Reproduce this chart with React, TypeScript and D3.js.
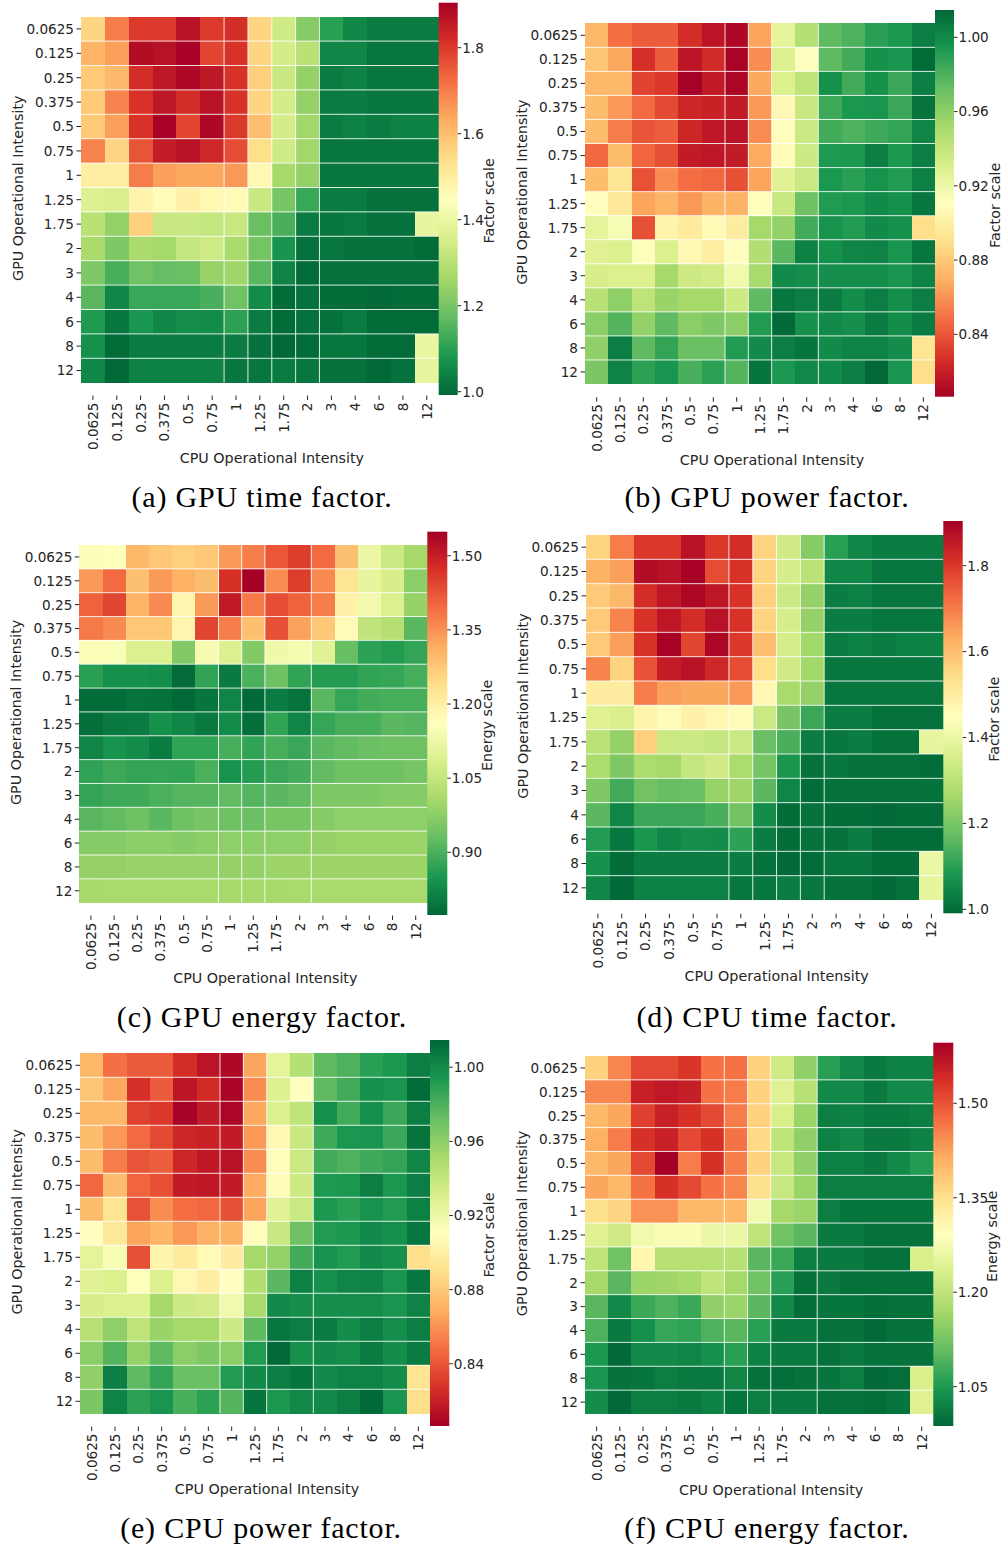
import React from 'react';
import * as d3 from 'd3';

const cpuIntensity = ['0.0625', '0.125', '0.25', '0.375', '0.5', '0.75', '1', '1.25', '1.75', '2', '3', '4', '6', '8', '12'];
const gpuIntensity = ['0.0625', '0.125', '0.25', '0.375', '0.5', '0.75', '1', '1.25', '1.75', '2', '3', '4', '6', '8', '12'];

// rows = GPU operational intensity, columns = CPU operational intensity
const gpuTime = [
  [1.56, 1.70, 1.80, 1.80, 1.87, 1.80, 1.82, 1.56, 1.34, 1.22, 1.10, 1.05, 1.03, 1.03, 1.03],
  [1.62, 1.65, 1.88, 1.87, 1.90, 1.78, 1.81, 1.56, 1.35, 1.30, 1.05, 1.05, 1.02, 1.02, 1.02],
  [1.58, 1.61, 1.82, 1.86, 1.89, 1.86, 1.81, 1.57, 1.33, 1.24, 1.03, 1.04, 1.02, 1.02, 1.02],
  [1.58, 1.69, 1.81, 1.86, 1.82, 1.87, 1.81, 1.56, 1.35, 1.24, 1.03, 1.03, 1.02, 1.02, 1.02],
  [1.58, 1.65, 1.81, 1.90, 1.78, 1.89, 1.80, 1.60, 1.35, 1.26, 1.03, 1.04, 1.03, 1.04, 1.04],
  [1.69, 1.56, 1.76, 1.85, 1.87, 1.83, 1.77, 1.54, 1.34, 1.26, 1.02, 1.02, 1.02, 1.02, 1.02],
  [1.50, 1.50, 1.70, 1.65, 1.64, 1.64, 1.66, 1.47, 1.27, 1.24, 1.02, 1.02, 1.02, 1.02, 1.02],
  [1.37, 1.36, 1.48, 1.46, 1.49, 1.47, 1.46, 1.33, 1.20, 1.12, 1.03, 1.03, 1.01, 1.01, 1.01],
  [1.30, 1.24, 1.57, 1.33, 1.33, 1.32, 1.33, 1.18, 1.14, 1.03, 1.02, 1.03, 1.01, 1.01, 1.39],
  [1.275, 1.21, 1.275, 1.265, 1.32, 1.34, 1.275, 1.195, 1.075, 1.01, 1.02, 1.01, 1.01, 1.01, 1.00],
  [1.21, 1.14, 1.19, 1.175, 1.18, 1.245, 1.255, 1.16, 1.045, 1.00, 1.01, 1.01, 1.01, 1.01, 1.01],
  [1.16, 1.05, 1.12, 1.12, 1.12, 1.14, 1.19, 1.06, 1.00, 1.01, 1.00, 1.00, 0.995, 1.00, 1.00],
  [1.09, 1.02, 1.08, 1.05, 1.065, 1.06, 1.105, 1.03, 1.00, 1.01, 1.01, 1.03, 1.00, 1.00, 1.00],
  [1.07, 1.00, 1.03, 1.03, 1.03, 1.03, 1.03, 1.01, 0.995, 1.00, 1.02, 1.02, 1.00, 1.00, 1.40],
  [1.05, 0.995, 1.04, 1.04, 1.04, 1.04, 1.02, 1.02, 1.03, 1.02, 1.01, 1.01, 0.995, 1.01, 1.39],
];

const gpuPower = [
  [0.873, 0.849, 0.842, 0.842, 0.826, 0.815, 0.810, 0.866, 0.925, 0.946, 0.975, 0.980, 0.990, 0.994, 1.005],
  [0.879, 0.867, 0.827, 0.842, 0.816, 0.825, 0.808, 0.858, 0.929, 0.911, 0.975, 0.983, 0.997, 0.995, 1.013],
  [0.873, 0.873, 0.834, 0.830, 0.807, 0.818, 0.809, 0.867, 0.930, 0.942, 0.997, 0.983, 0.997, 0.985, 1.005],
  [0.875, 0.862, 0.847, 0.836, 0.823, 0.821, 0.818, 0.862, 0.906, 0.938, 0.984, 0.994, 0.995, 0.985, 1.010],
  [0.875, 0.853, 0.840, 0.843, 0.823, 0.817, 0.814, 0.858, 0.909, 0.937, 0.983, 0.980, 0.984, 0.987, 1.002],
  [0.846, 0.875, 0.845, 0.838, 0.818, 0.817, 0.818, 0.868, 0.908, 0.936, 0.993, 0.994, 1.005, 0.994, 1.005],
  [0.875, 0.893, 0.839, 0.858, 0.848, 0.846, 0.838, 0.866, 0.927, 0.937, 0.994, 0.990, 0.996, 0.992, 1.004],
  [0.910, 0.896, 0.866, 0.872, 0.862, 0.871, 0.871, 0.909, 0.938, 0.970, 0.992, 0.994, 1.000, 0.997, 1.008],
  [0.925, 0.915, 0.838, 0.903, 0.897, 0.907, 0.898, 0.952, 0.958, 0.983, 0.996, 0.992, 1.000, 0.997, 0.890],
  [0.927, 0.930, 0.912, 0.930, 0.906, 0.899, 0.910, 0.947, 0.976, 1.004, 0.997, 1.002, 1.003, 0.995, 1.008],
  [0.932, 0.930, 0.930, 0.952, 0.936, 0.934, 0.918, 0.951, 1.000, 0.998, 0.998, 0.998, 0.998, 0.995, 1.003],
  [0.945, 0.960, 0.943, 0.956, 0.952, 0.952, 0.936, 0.975, 1.008, 1.005, 1.006, 0.999, 1.005, 0.998, 1.005],
  [0.961, 0.978, 0.958, 0.975, 0.961, 0.965, 0.961, 0.992, 1.014, 0.997, 1.000, 0.998, 1.006, 0.999, 1.006],
  [0.959, 1.005, 0.975, 0.987, 0.971, 0.971, 0.992, 1.000, 1.005, 1.009, 1.000, 1.003, 1.003, 0.999, 0.893],
  [0.966, 1.003, 0.989, 0.995, 0.981, 0.989, 0.978, 1.009, 0.994, 1.001, 1.000, 1.005, 1.014, 0.995, 0.890],
];

const gpuEnergy = [
  [1.153, 1.16, 1.30, 1.277, 1.263, 1.277, 1.34, 1.373, 1.423, 1.455, 1.397, 1.288, 1.122, 1.064, 1.006],
  [1.34, 1.397, 1.288, 1.34, 1.31, 1.292, 1.47, 1.548, 1.355, 1.455, 1.36, 1.226, 1.112, 1.08, 0.974],
  [1.407, 1.443, 1.305, 1.36, 1.185, 1.34, 1.506, 1.378, 1.433, 1.408, 1.373, 1.195, 1.137, 1.09, 0.987],
  [1.378, 1.358, 1.277, 1.277, 1.185, 1.443, 1.373, 1.288, 1.43, 1.33, 1.275, 1.17, 1.045, 1.03, 0.918],
  [1.15, 1.15, 1.09, 1.09, 0.963, 1.14, 1.09, 0.963, 1.13, 1.14, 1.10, 0.93, 0.87, 0.86, 0.876],
  [0.865, 0.839, 0.839, 0.835, 0.778, 0.873, 0.802, 0.90, 0.94, 0.873, 0.86, 0.86, 0.873, 0.878, 0.897],
  [0.782, 0.782, 0.79, 0.787, 0.775, 0.795, 0.82, 0.776, 0.805, 0.79, 0.916, 0.878, 0.893, 0.897, 0.897],
  [0.785, 0.80, 0.805, 0.839, 0.82, 0.80, 0.83, 0.785, 0.873, 0.82, 0.878, 0.897, 0.897, 0.918, 0.91],
  [0.82, 0.842, 0.83, 0.805, 0.873, 0.873, 0.897, 0.873, 0.897, 0.883, 0.918, 0.925, 0.935, 0.94, 0.94],
  [0.872, 0.885, 0.876, 0.876, 0.873, 0.90, 0.842, 0.86, 0.883, 0.893, 0.925, 0.94, 0.94, 0.94, 0.95],
  [0.876, 0.885, 0.888, 0.90, 0.91, 0.91, 0.925, 0.91, 0.918, 0.925, 0.958, 0.958, 0.958, 0.967, 0.967],
  [0.916, 0.925, 0.94, 0.918, 0.94, 0.95, 0.94, 0.935, 0.95, 0.95, 0.967, 0.978, 0.978, 0.978, 0.978],
  [0.967, 0.967, 0.974, 0.974, 0.967, 0.974, 0.978, 0.974, 0.978, 0.978, 0.985, 0.993, 0.993, 0.993, 0.993],
  [0.985, 0.985, 0.99, 0.99, 0.99, 0.99, 0.985, 0.985, 0.995, 0.995, 0.995, 0.995, 0.995, 0.995, 0.995],
  [1.006, 1.01, 1.01, 1.01, 1.01, 1.01, 1.006, 1.006, 1.006, 1.01, 1.01, 1.01, 1.01, 1.01, 1.01],
];

const cpuTime = [
  [1.56, 1.70, 1.80, 1.80, 1.87, 1.80, 1.82, 1.56, 1.34, 1.22, 1.10, 1.05, 1.03, 1.03, 1.03],
  [1.62, 1.65, 1.88, 1.87, 1.90, 1.77, 1.81, 1.56, 1.35, 1.30, 1.05, 1.05, 1.02, 1.02, 1.02],
  [1.58, 1.61, 1.82, 1.86, 1.89, 1.86, 1.81, 1.57, 1.33, 1.24, 1.03, 1.04, 1.02, 1.02, 1.02],
  [1.58, 1.69, 1.81, 1.86, 1.82, 1.87, 1.81, 1.56, 1.35, 1.24, 1.03, 1.03, 1.02, 1.02, 1.02],
  [1.58, 1.65, 1.81, 1.90, 1.78, 1.89, 1.80, 1.60, 1.35, 1.26, 1.03, 1.04, 1.03, 1.04, 1.04],
  [1.69, 1.56, 1.76, 1.85, 1.87, 1.83, 1.77, 1.54, 1.34, 1.26, 1.02, 1.02, 1.02, 1.02, 1.02],
  [1.50, 1.50, 1.70, 1.65, 1.64, 1.64, 1.66, 1.47, 1.27, 1.24, 1.02, 1.02, 1.02, 1.02, 1.02],
  [1.37, 1.36, 1.48, 1.46, 1.49, 1.47, 1.46, 1.33, 1.20, 1.12, 1.03, 1.03, 1.01, 1.01, 1.01],
  [1.30, 1.24, 1.57, 1.33, 1.33, 1.32, 1.33, 1.18, 1.14, 1.03, 1.02, 1.03, 1.01, 1.01, 1.39],
  [1.275, 1.21, 1.275, 1.265, 1.32, 1.34, 1.275, 1.195, 1.08, 1.01, 1.02, 1.01, 1.01, 1.01, 1.00],
  [1.21, 1.13, 1.19, 1.175, 1.18, 1.245, 1.255, 1.16, 1.045, 1.00, 1.01, 1.01, 1.01, 1.01, 1.01],
  [1.16, 1.05, 1.12, 1.12, 1.12, 1.14, 1.19, 1.06, 1.00, 1.01, 1.00, 1.00, 0.995, 1.00, 1.00],
  [1.09, 1.02, 1.08, 1.05, 1.065, 1.06, 1.105, 1.03, 1.00, 1.01, 1.01, 1.03, 1.00, 1.00, 1.00],
  [1.07, 1.00, 1.03, 1.03, 1.03, 1.03, 1.03, 1.01, 0.995, 1.00, 1.02, 1.02, 1.00, 1.00, 1.40],
  [1.05, 0.995, 1.04, 1.04, 1.04, 1.04, 1.02, 1.02, 1.03, 1.02, 1.01, 1.01, 0.995, 1.01, 1.39],
];

const cpuPower = [
  [0.873, 0.849, 0.842, 0.842, 0.826, 0.815, 0.810, 0.866, 0.925, 0.946, 0.975, 0.980, 0.990, 0.994, 1.005],
  [0.879, 0.867, 0.827, 0.842, 0.816, 0.825, 0.808, 0.858, 0.929, 0.911, 0.975, 0.983, 0.997, 0.995, 1.013],
  [0.873, 0.873, 0.833, 0.830, 0.807, 0.818, 0.809, 0.867, 0.930, 0.942, 0.997, 0.983, 0.997, 0.985, 1.005],
  [0.875, 0.862, 0.847, 0.836, 0.823, 0.821, 0.818, 0.862, 0.906, 0.938, 0.984, 0.994, 0.995, 0.985, 1.010],
  [0.875, 0.853, 0.840, 0.843, 0.823, 0.817, 0.814, 0.858, 0.909, 0.937, 0.983, 0.980, 0.984, 0.987, 1.002],
  [0.846, 0.875, 0.845, 0.838, 0.818, 0.817, 0.818, 0.868, 0.908, 0.936, 0.993, 0.994, 1.005, 0.994, 1.005],
  [0.875, 0.893, 0.839, 0.858, 0.848, 0.846, 0.838, 0.866, 0.927, 0.937, 0.994, 0.990, 0.996, 0.992, 1.004],
  [0.910, 0.896, 0.866, 0.872, 0.862, 0.871, 0.871, 0.909, 0.938, 0.970, 0.992, 0.994, 1.000, 0.997, 1.008],
  [0.925, 0.915, 0.838, 0.903, 0.897, 0.907, 0.898, 0.952, 0.958, 0.983, 0.996, 0.992, 1.000, 0.997, 0.890],
  [0.927, 0.930, 0.912, 0.930, 0.906, 0.899, 0.910, 0.947, 0.976, 1.004, 0.997, 1.002, 1.003, 0.995, 1.008],
  [0.932, 0.930, 0.930, 0.952, 0.936, 0.934, 0.918, 0.951, 1.000, 0.998, 0.998, 0.998, 0.998, 0.995, 1.003],
  [0.945, 0.960, 0.943, 0.956, 0.952, 0.952, 0.936, 0.975, 1.008, 1.005, 1.006, 0.999, 1.005, 0.998, 1.005],
  [0.961, 0.978, 0.958, 0.975, 0.961, 0.965, 0.961, 0.992, 1.014, 0.997, 1.000, 0.998, 1.006, 0.999, 1.006],
  [0.959, 1.005, 0.975, 0.987, 0.971, 0.971, 0.992, 1.000, 1.005, 1.009, 1.000, 1.003, 1.003, 0.999, 0.893],
  [0.966, 1.003, 0.989, 0.995, 0.981, 0.989, 0.978, 1.009, 0.994, 1.001, 1.000, 1.005, 1.014, 0.995, 0.890],
];

const cpuEnergy = [
  [1.37, 1.45, 1.51, 1.51, 1.53, 1.47, 1.47, 1.37, 1.22, 1.15, 1.06, 1.03, 1.01, 1.02, 1.02],
  [1.45, 1.45, 1.555, 1.565, 1.557, 1.47, 1.46, 1.37, 1.24, 1.19, 1.03, 1.03, 1.01, 1.03, 1.03],
  [1.40, 1.42, 1.52, 1.555, 1.535, 1.51, 1.46, 1.37, 1.23, 1.16, 1.015, 1.02, 1.01, 1.01, 1.015],
  [1.41, 1.46, 1.535, 1.555, 1.51, 1.535, 1.47, 1.36, 1.20, 1.15, 1.02, 1.03, 1.01, 1.01, 1.02],
  [1.40, 1.42, 1.51, 1.596, 1.46, 1.535, 1.46, 1.37, 1.21, 1.15, 1.02, 1.02, 1.01, 1.03, 1.055],
  [1.42, 1.40, 1.47, 1.535, 1.51, 1.47, 1.45, 1.35, 1.21, 1.16, 1.015, 1.015, 1.015, 1.015, 1.015],
  [1.35, 1.365, 1.44, 1.44, 1.40, 1.40, 1.40, 1.27, 1.17, 1.16, 1.015, 1.005, 1.005, 1.005, 1.005],
  [1.24, 1.22, 1.27, 1.28, 1.28, 1.26, 1.26, 1.20, 1.12, 1.10, 1.01, 1.01, 1.00, 1.00, 1.00],
  [1.20, 1.12, 1.31, 1.19, 1.19, 1.19, 1.19, 1.10, 1.075, 1.015, 1.01, 1.01, 1.00, 1.00, 1.23],
  [1.17, 1.10, 1.16, 1.165, 1.17, 1.20, 1.17, 1.12, 1.06, 1.00, 1.01, 1.00, 1.00, 1.00, 1.00],
  [1.10, 1.03, 1.075, 1.09, 1.075, 1.15, 1.16, 1.10, 1.03, 0.995, 1.005, 1.005, 0.995, 1.00, 1.00],
  [1.09, 1.01, 1.04, 1.07, 1.065, 1.09, 1.10, 1.06, 1.01, 1.01, 1.00, 1.00, 0.99, 1.00, 1.00],
  [1.05, 0.99, 1.03, 1.03, 1.025, 1.04, 1.06, 1.02, 1.01, 1.01, 1.00, 1.01, 1.00, 1.00, 1.00],
  [1.045, 1.00, 1.005, 1.015, 1.01, 1.01, 1.025, 1.00, 0.995, 1.00, 1.005, 1.015, 0.99, 0.995, 1.23],
  [1.035, 0.99, 1.015, 1.015, 1.01, 1.02, 1.005, 1.015, 1.01, 1.01, 1.00, 1.00, 0.995, 1.005, 1.24],
];

// colour-scale limits and colorbar ticks
const timeRange = [0.9923, 1.9047];
const cpuTimeRange = [0.9907, 1.904];
const powerRange = [0.8064, 1.0147];
const gpuEnergyRange = [0.7732, 1.5486];
const cpuEnergyRange = [0.9876, 1.5962];
const timeTicks = [1.0, 1.2, 1.4, 1.6, 1.8];
const powerTicks = [0.84, 0.88, 0.92, 0.96, 1.0];
const gpuEnergyTicks = [0.9, 1.05, 1.2, 1.35, 1.5];
const cpuEnergyTicks = [1.05, 1.2, 1.35, 1.5];

const rdylgn = d3
  .scaleLinear<string>()
  .domain(d3.range(11).map((i) => i / 10))
  .range(d3.schemeRdYlGn[11] as string[])
  .interpolate(d3.interpolateRgb)
  .clamp(true);

type Panel = {
  key: string;
  data: number[][];
  range: number[];
  reversed: boolean;
  ticks: number[];
  fmt: string;
  cbLabel: string;
  caption: string;
  hm: number[];
  cb: number[];
  cbLabelOff: number;
  capX: number;
  capY: number;
  vLines: number[];
};

const panels: Panel[] = [
  { key: 'a', data: gpuTime, range: timeRange, reversed: true, ticks: timeTicks, fmt: '.1f', cbLabel: 'Factor scale', caption: '(a) GPU time factor.',
    hm: [81, 16.7, 438.7, 382.7], cb: [438.7, 2.7, 457.7, 395], cbLabelOff: 25.6, capX: 262, capY: 507, vLines: [6, 7, 8, 9, 10] },
  { key: 'b', data: gpuPower, range: powerRange, reversed: false, ticks: powerTicks, fmt: '.2f', cbLabel: 'Factor scale', caption: '(b) GPU power factor.',
    hm: [585, 23.3, 935, 384], cb: [935, 10, 954, 396.7], cbLabelOff: 35.3, capX: 767, capY: 507, vLines: [6, 7, 8, 10] },
  { key: 'c', data: gpuEnergy, range: gpuEnergyRange, reversed: true, ticks: gpuEnergyTicks, fmt: '.2f', cbLabel: 'Energy scale', caption: '(c) GPU energy factor.',
    hm: [79.3, 545, 427.3, 902.7], cb: [427.3, 531.7, 447.3, 915], cbLabelOff: 34.4, capX: 262, capY: 1027, vLines: [6, 7, 8, 10] },
  { key: 'd', data: cpuTime, range: cpuTimeRange, reversed: true, ticks: timeTicks, fmt: '.1f', cbLabel: 'Factor scale', caption: '(d) CPU time factor.',
    hm: [586, 535, 943.3, 900], cb: [943.3, 521, 962.7, 913.3], cbLabelOff: 25.6, capX: 767, capY: 1027, vLines: [6, 7, 8, 9, 10] },
  { key: 'e', data: cpuPower, range: powerRange, reversed: false, ticks: powerTicks, fmt: '.2f', cbLabel: 'Factor scale', caption: '(e) CPU power factor.',
    hm: [80, 1053.3, 430, 1413.3], cb: [430, 1040, 449.3, 1426], cbLabelOff: 34, capX: 261, capY: 1538, vLines: [6, 7, 8, 10] },
  { key: 'f', data: cpuEnergy, range: cpuEnergyRange, reversed: true, ticks: cpuEnergyTicks, fmt: '.2f', cbLabel: 'Energy scale', caption: '(f) CPU energy factor.',
    hm: [585, 1056, 933.3, 1414], cb: [933.3, 1042.7, 953.3, 1426], cbLabelOff: 33.4, capX: 767, capY: 1538, vLines: [6, 7, 8, 10] },
];

const TXT = '#262626';
const SANS = 'DejaVu Sans, sans-serif';
const TICK_FS = 13.6;
const LABEL_FS = 14.3;

function Heatmap({ p }: { p: Panel }) {
  const [x0, y0, x1, y1] = p.hm;
  const [cx0, cy0, cx1, cy1] = p.cb;
  const x = d3.scaleBand<string>().domain(cpuIntensity).range([x0, x1]);
  const y = d3.scaleBand<string>().domain(gpuIntensity).range([y0, y1]);
  const norm = d3.scaleLinear().domain(p.range).range([0, 1]);
  const color = (v: number) => rdylgn(p.reversed ? 1 - norm(v) : norm(v));
  const cy = d3.scaleLinear().domain(p.range).range([cy1, cy0]);
  const fmt = d3.format(p.fmt);
  const gradId = `grad-${p.key}`;
  const stops = d3.range(11).map((i) => i / 10);
  const bw = x.bandwidth();
  const bh = y.bandwidth();
  const hmCx = (x0 + x1) / 2;
  const hmCy = (y0 + y1) / 2;
  const cbCy = (cy0 + cy1) / 2;
  const cbLabelX = cx1 + p.cbLabelOff + 10.4;

  return (
    <g>
      <defs>
        <linearGradient id={gradId} x1="0" y1="1" x2="0" y2="0">
          {stops.map((t) => (
            <stop key={t} offset={t} stopColor={rdylgn(p.reversed ? 1 - t : t)} />
          ))}
        </linearGradient>
      </defs>
      {p.data.map((row, ri) =>
        row.map((v, ci) => (
          <rect
            key={`${ri}-${ci}`}
            x={x(cpuIntensity[ci])}
            y={y(gpuIntensity[ri])}
            width={bw + 0.4}
            height={bh + 0.4}
            fill={color(v)}
            shapeRendering="crispEdges"
          />
        ))
      )}
      {gpuIntensity.slice(1).map((g) => (
        <line key={`h${g}`} x1={x0} x2={x1} y1={y(g)} y2={y(g)} stroke="#fff" strokeOpacity={0.85} strokeWidth={1} />
      ))}
      {p.vLines.map((i) => (
        <line key={`v${i}`} x1={x(cpuIntensity[i])} x2={x(cpuIntensity[i])} y1={y0} y2={y1} stroke="#fff" strokeOpacity={0.85} strokeWidth={1} />
      ))}
      {/* y axis */}
      {gpuIntensity.map((g) => {
        const yy = (y(g) as number) + bh / 2;
        return (
          <g key={`yt${g}`}>
            <line x1={x0 - 4.5} x2={x0} y1={yy} y2={yy} stroke={TXT} strokeWidth={1} />
            <text x={x0 - 7} y={yy} dy="0.36em" textAnchor="end" fontFamily={SANS} fontSize={TICK_FS} fill={TXT}>
              {g}
            </text>
          </g>
        );
      })}
      {/* x axis */}
      {cpuIntensity.map((c) => {
        const xx = (x(c) as number) + bw / 2;
        return (
          <g key={`xt${c}`}>
            <line x1={xx} x2={xx} y1={cy1 + 0.5} y2={cy1 + 5} stroke={TXT} strokeWidth={1} />
            <text
              transform={`translate(${xx},${cy1 + 7.5}) rotate(-90)`}
              dy="0.36em"
              textAnchor="end"
              fontFamily={SANS}
              fontSize={TICK_FS}
              fill={TXT}
            >
              {c}
            </text>
          </g>
        );
      })}
      <text x={hmCx + 12} y={y1 + 80.5} textAnchor="middle" fontFamily={SANS} fontSize={LABEL_FS} fill={TXT}>
        CPU Operational Intensity
      </text>
      <text
        transform={`translate(${x0 - 58.5},${hmCy - 11.5}) rotate(-90)`}
        textAnchor="middle"
        fontFamily={SANS}
        fontSize={LABEL_FS}
        fill={TXT}
      >
        GPU Operational Intensity
      </text>
      {/* colorbar */}
      <rect x={cx0} y={cy0} width={cx1 - cx0} height={cy1 - cy0} fill={`url(#${gradId})`} />
      {p.ticks.map((t) => (
        <g key={`ct${t}`}>
          <line x1={cx1} x2={cx1 + 3.5} y1={cy(t)} y2={cy(t)} stroke={TXT} strokeWidth={1} />
          <text x={cx1 + 4.5} y={cy(t)} dy="0.36em" fontFamily={SANS} fontSize={TICK_FS} fill={TXT}>
            {fmt(t)}
          </text>
        </g>
      ))}
      <text
        transform={`translate(${cbLabelX},${cbCy + 2}) rotate(-90)`}
        textAnchor="middle"
        fontFamily={SANS}
        fontSize={LABEL_FS}
        fill={TXT}
      >
        {p.cbLabel}
      </text>
      <text
        x={p.capX}
        y={p.capY}
        textAnchor="middle"
        fontFamily="Liberation Serif, serif"
        fontSize={30}
        letterSpacing={0.8}
        fill="#000"
      >
        {p.caption}
      </text>
    </g>
  );
}

export default function App() {
  return (
    <svg
      width={1004}
      height={1549}
      viewBox="0 0 1004 1549"
      style={{ position: 'absolute', left: 0, top: 0, background: '#fff' }}
    >
      <rect width={1004} height={1549} fill="#fff" />
      {panels.map((p) => (
        <Heatmap key={p.key} p={p} />
      ))}
    </svg>
  );
}
